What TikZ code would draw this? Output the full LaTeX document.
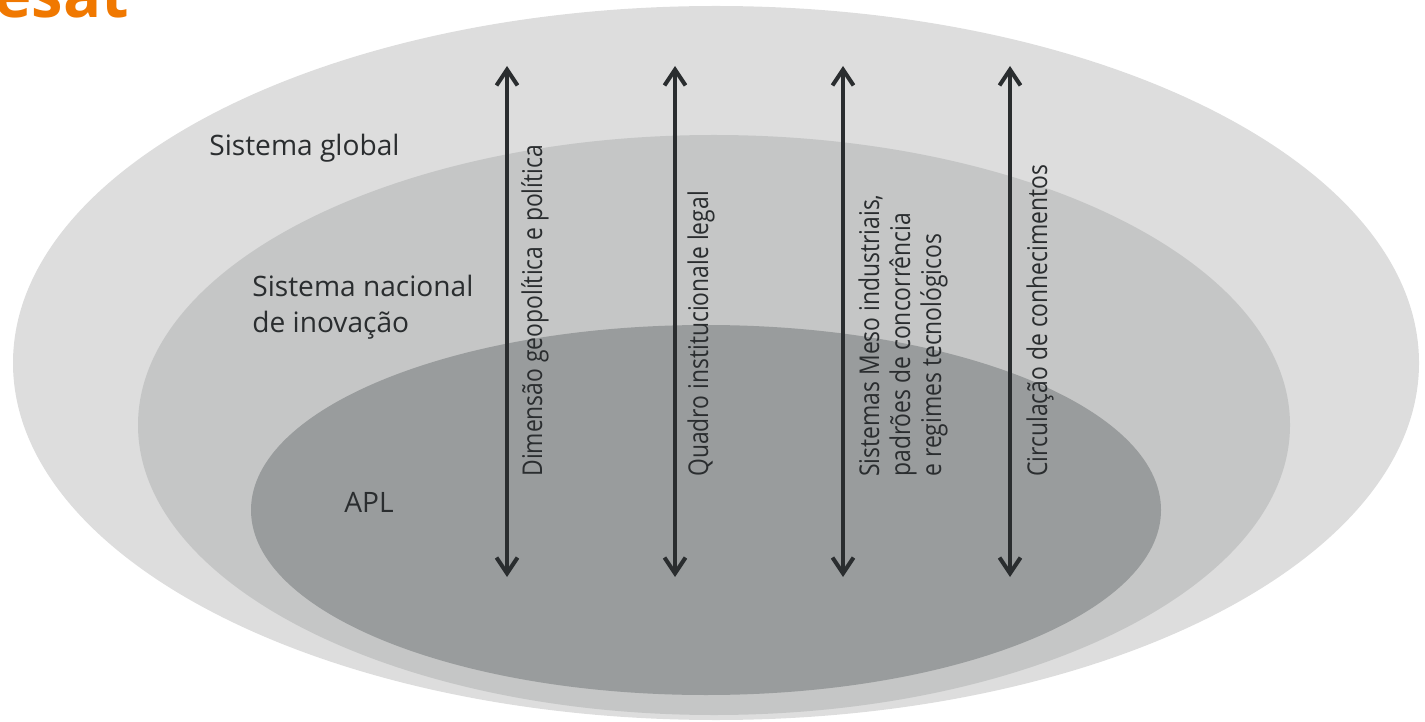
\documentclass[tikz,border=0pt]{standalone}
\usepackage{fontspec}
\setmainfont{Open Sans}
\newfontfamily\narrowfont[FakeStretch=0.84]{Open Sans}
\usetikzlibrary{arrows.meta}
\definecolor{outergray}{RGB}{221,221,221}
\definecolor{midgray}{RGB}{197,198,198}
\definecolor{innergray}{RGB}{153,156,157}
\definecolor{inkgray}{RGB}{42,45,47}
\definecolor{titleorange}{RGB}{240,120,0}

\begin{document}
\begin{tikzpicture}[x=0.02cm,y=-0.02cm,
  dim/.style={draw=inkgray,line width=2.3pt,
    {Straight Barb[length=9pt,width=12pt]}-{Straight Barb[length=9pt,width=12pt]}},
  lbl/.style={font=\fontsize{16}{21}\selectfont,text=inkgray,inner sep=0pt,anchor=base west,align=left},
  vlbl/.style={font=\narrowfont\fontsize{15.5}{17.6}\selectfont,text=inkgray,inner sep=0pt,rotate=90,anchor=base west,align=left}]
\useasboundingbox (0,0) rectangle (1425,722);

% cut title at the top
\node[font=\fontsize{36}{36}\selectfont\bfseries,text=titleorange,inner sep=0pt,anchor=base west] (title) at (-6,18) {esat};

% the three systems
\fill[outergray] (716,363) ellipse [x radius=703, y radius=357];
\fill[midgray] (714,425) ellipse [x radius=576, y radius=290];
\fill[innergray] (706,510) ellipse [x radius=455, y radius=185];

\node[lbl] (global) at (209,156) {Sistema global};
\node[lbl] (nacional) at (252,333) {Sistema nacional\\de inova\c{c}\~ao};
\node[lbl] (apl) at (344,512) {APL};

% dimensions
\coordinate (geo top) at (507,66);   \coordinate (geo bot) at (507,577);
\coordinate (inst top) at (675,66);  \coordinate (inst bot) at (675,577);
\coordinate (meso top) at (843,66);  \coordinate (meso bot) at (843,577);
\coordinate (conh top) at (1010,66); \coordinate (conh bot) at (1010,577);

\draw[dim] (geo bot) -- (geo top);
\draw[dim] (inst bot) -- (inst top);
\draw[dim] (meso bot) -- (meso top);
\draw[dim] (conh bot) -- (conh top);

\node[vlbl] (geo) at (542,477) {Dimens\~ao geopol\'itica e pol\'itica};
\node[vlbl] (inst) at (708,477) {Quadro institucionale legal};
\node[vlbl] (meso) at (941,477) {Sistemas Meso industriais,\\padr\~oes de concorr\^encia\\e regimes tecnol\'ogicos};
\node[vlbl] (conh) at (1047,477) {Circula\c{c}\~ao de conhecimentos};
\end{tikzpicture}
\end{document}
